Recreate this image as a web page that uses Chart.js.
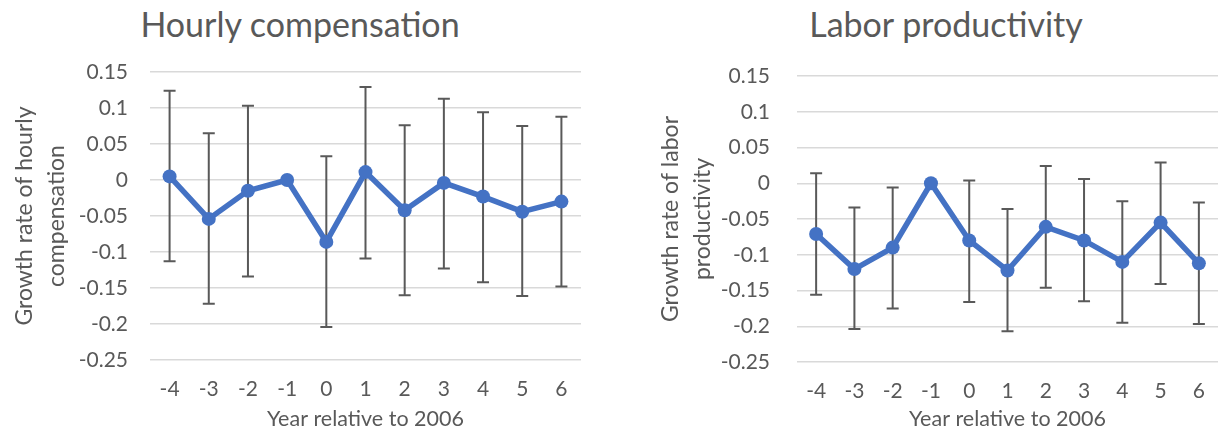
<!DOCTYPE html>
<html>
<head>
<meta charset="utf-8">
<script src="https://cdn.jsdelivr.net/npm/chart.js@4.4.1/dist/chart.umd.min.js"></script>
<style>
    body { margin: 0; background: #fff; width: 1225px; height: 434px; overflow: hidden; position: relative; font-family: Lato, sans-serif; }
    .box { position: absolute; top: 0; height: 434px; }
    .ttl { position: absolute; top: 4px; font-size: 34px; line-height: 40px; color: #595959; white-space: nowrap; transform: translateX(-50%); }
</style>
</head>
<body>
<div class="ttl" style="left:300px">Hourly compensation</div>
<div class="ttl" style="left:946px">Labor productivity</div>
<div class="box" style="left:0;width:610px"><canvas id="comp" width="610" height="434"></canvas></div>
<div class="box" style="left:610px;width:615px"><canvas id="prod" width="615" height="434"></canvas></div>
<script>
const years = ['-4', '-3', '-2', '-1', '0', '1', '2', '3', '4', '5', '6']
const yTicks = [0.15, 0.1, 0.05, 0, -0.05, -0.1, -0.15, -0.2, -0.25]

const compMean = [0.005, -0.054, -0.015, 0, -0.086, 0.011, -0.042, -0.004, -0.023, -0.044, -0.030]
const compLow  = [-0.113, -0.172, -0.134, null, -0.204, -0.109, -0.160, -0.123, -0.142, -0.161, -0.148]
const compHigh = [0.124, 0.065, 0.103, null, 0.033, 0.129, 0.076, 0.113, 0.094, 0.075, 0.088]

const prodMean = [-0.071, -0.120, -0.090, 0, -0.080, -0.122, -0.061, -0.080, -0.110, -0.055, -0.112]
const prodLow  = [-0.156, -0.204, -0.175, null, -0.166, -0.207, -0.146, -0.165, -0.195, -0.141, -0.197]
const prodHigh = [0.014, -0.034, -0.006, null, 0.004, -0.036, 0.024, 0.006, -0.025, 0.029, -0.027]

Chart.defaults.font.family = 'Lato, sans-serif'
Chart.defaults.color = '#595959'

// whiskers drawn under the line, from the dataset's errLow / errHigh
const errorBars = {
    id: 'errorBars',
    beforeDatasetsDraw(chart) {
        const ctx = chart.ctx
        const x = chart.scales.x
        const y = chart.scales.y
        const ds = chart.data.datasets[0]
        ctx.save()
        ctx.strokeStyle = '#595959'
        ctx.lineWidth = 2
        ds.errLow.forEach((lo, i) => {
            const hi = ds.errHigh[i]
            if (lo == null || hi == null) return
            const px = x.getPixelForValue(i)
            const y1 = y.getPixelForValue(lo)
            const y2 = y.getPixelForValue(hi)
            ctx.beginPath()
            ctx.moveTo(px, y1); ctx.lineTo(px, y2)
            ctx.moveTo(px - 6, y1); ctx.lineTo(px + 6, y1)
            ctx.moveTo(px - 6, y2); ctx.lineTo(px + 6, y2)
            ctx.stroke()
        })
        ctx.restore()
    }
}

function makeChart(id, mean, low, high, yTitle, s) {
    new Chart(document.getElementById(id), {
        type: 'line',
        data: {
            labels: years,
            datasets: [{
                data: mean,
                errLow: low,
                errHigh: high,
                borderColor: '#4472C4',
                backgroundColor: '#4472C4',
                borderWidth: 5.5,
                pointRadius: 7,
                pointBorderWidth: 0,
                tension: 0
            }]
        },
        options: {
            responsive: false,
            animation: false,
            layout: { padding: { top: s.top, right: s.right, left: 0, bottom: 0 } },
            plugins: { legend: { display: false }, tooltip: { enabled: false } },
            scales: {
                x: {
                    offset: true,
                    afterFit: (sc) => { sc.height = s.xh },
                    grid: { display: false, drawTicks: false },
                    border: { display: false },
                    ticks: { padding: 17, font: { size: 21 }, color: '#595959' },
                    title: { display: true, text: 'Year relative to 2006', font: { size: 21.5 }, color: '#595959', padding: { top: 0, bottom: 2 } }
                },
                y: {
                    min: yTicks[yTicks.length - 1],
                    max: yTicks[0],
                    afterFit: (sc) => { sc.width = s.yw },
                    afterBuildTicks: (sc) => { sc.ticks = yTicks.map(v => ({ value: v })) },
                    grid: { color: '#D9D9D9', lineWidth: 1.5, drawTicks: false },
                    border: { display: false },
                    ticks: {
                        padding: s.tp,
                        font: { size: 21 },
                        color: '#595959',
                        callback: (v) => String(parseFloat(Number(v).toFixed(2)))
                    },
                    title: { display: true, text: yTitle, font: { size: 23, lineHeight: 1.4 }, color: '#595959', padding: { top: s.tt, bottom: 0 } }
                }
            }
        },
        plugins: [errorBars]
    })
}

makeChart('comp', compMean, compLow, compHigh, ['Growth rate of hourly', 'compensation'],
    { top: 72, right: 29, xh: 74, yw: 150, tp: 22, tt: 8 })
makeChart('prod', prodMean, prodLow, prodHigh, ['Growth rate of labor', 'productivity'],
    { top: 76, right: 0, xh: 72, yw: 187, tp: 27, tt: 44 })
</script>
</body>
</html>
